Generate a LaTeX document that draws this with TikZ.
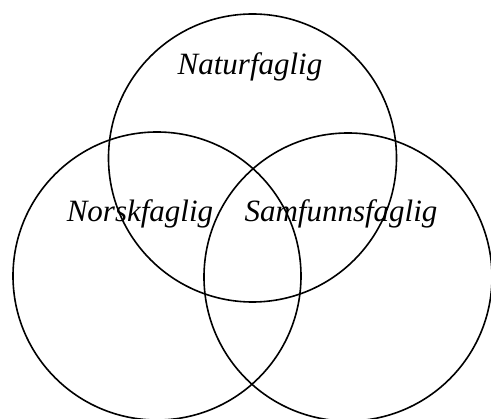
\documentclass[tikz,border=0pt]{standalone}
\usepackage{fontspec}
\setmainfont{Liberation Serif}
\begin{document}
\begin{tikzpicture}[x=1pt,y=-1pt,
  ring/.style={draw=black,line width=1.6pt},
  lbl/.style={anchor=base,inner sep=0pt,font=\fontsize{31}{36}\selectfont\itshape}]
\useasboundingbox (0,0) rectangle (491,419);
\begin{scope}
\clip (0,0) rectangle (491,419);
\node[ring,circle,minimum size=288pt,inner sep=0pt] (top) at (252.5,158) {};
\node[ring,circle,minimum size=288pt,inner sep=0pt] (left) at (157,276) {};
\node[ring,circle,minimum size=288pt,inner sep=0pt] (right) at (348,277) {};
\end{scope}
\node[lbl] (natur) at (250,75) {Naturfaglig};
\node[lbl] (norsk) at (140,222) {Norskfaglig};
\node[lbl] (samf) at (341,222) {Samfunnsfaglig};
\end{tikzpicture}
\end{document}
